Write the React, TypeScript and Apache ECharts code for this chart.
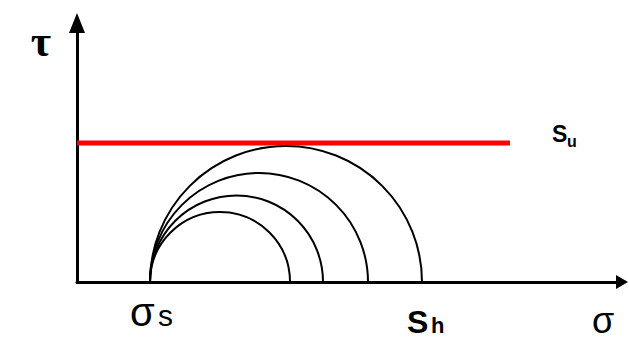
import React, { useEffect, useRef } from "react";
import * as echarts from "echarts";

// Values in chart units (σ along x, τ along y)
const sigmaStart = 73; // σs: common left end of all Mohr circles
const circleEnds = [213, 246, 291, 345]; // right ends of the circles (largest = Sh)
const suLevel = 139; // undrained strength Su
const suLineEnd = 433;
const xMax = 545;
const yMax = 259;

export default function App() {
  const ref = useRef<HTMLDivElement>(null);
  useEffect(() => {
    const chart = echarts.init(ref.current!, null, { renderer: "svg" });
    const axisCommon = {
      type: "value",
      min: 0,
      axisTick: { show: false },
      axisLabel: { show: false },
      splitLine: { show: false },
    };
    chart.setOption({
      animation: false,
      backgroundColor: "#ffffff",
      grid: { left: 77, right: 7, top: 23, bottom: 58 },
      xAxis: {
        ...axisCommon,
        max: xMax,
        axisLine: {
          show: true,
          symbol: ["none", "triangle"],
          symbolSize: [14, 12],
          lineStyle: { color: "#000", width: 3 },
        },
      },
      yAxis: {
        ...axisCommon,
        max: yMax,
        axisLine: {
          show: true,
          symbol: ["none", "triangle"],
          symbolSize: [16, 20],
          lineStyle: { color: "#000", width: 3 },
        },
      },
      series: [
        {
          type: "custom",
          data: circleEnds.map((e) => [sigmaStart, e]),
          renderItem: (_params: any, api: any) => {
            const p1 = api.coord([api.value(0), 0]);
            const p2 = api.coord([api.value(1), 0]);
            const cx = (p1[0] + p2[0]) / 2;
            const r = (p2[0] - p1[0]) / 2;
            return {
              type: "arc",
              shape: { cx, cy: p1[1], r, startAngle: Math.PI, endAngle: 2 * Math.PI, clockwise: true },
              style: { stroke: "#000", fill: "none", lineWidth: 2 },
            };
          },
          z: 2,
        },
        {
          type: "line",
          data: [
            [0, suLevel],
            [suLineEnd, suLevel],
          ],
          symbol: "none",
          lineStyle: { color: "#ff0000", width: 5 },
          z: 3,
        },
      ],
      graphic: [
        { type: "text", x: 41, y: 41, style: { text: "τ", font: "bold 44px 'Liberation Serif'", fill: "#000", align: "center", verticalAlign: "middle" } },
        { type: "text", x: 592, y: 320, style: { text: "σ", font: "36px 'Liberation Sans'", fill: "#000", align: "left", verticalAlign: "middle" } },
        { type: "text", x: 130, y: 312, style: { text: "σ", font: "40px 'Liberation Sans'", fill: "#000", align: "left", verticalAlign: "middle" } },
        { type: "text", x: 158, y: 315, style: { text: "s", font: "30px 'Liberation Sans'", fill: "#000", align: "left", verticalAlign: "middle" } },
        { type: "text", x: 407, y: 322, style: { text: "S", font: "bold 32px 'Liberation Sans'", fill: "#000", align: "left", verticalAlign: "middle" } },
        { type: "text", x: 431, y: 325, style: { text: "h", font: "bold 22px 'Liberation Sans'", fill: "#000", align: "left", verticalAlign: "middle" } },
        { type: "text", x: 552, y: 134, style: { text: "S", font: "bold 23px 'Liberation Sans'", fill: "#000", align: "left", verticalAlign: "middle" } },
        { type: "text", x: 567, y: 141, style: { text: "u", font: "bold 16px 'Liberation Sans'", fill: "#000", align: "left", verticalAlign: "middle" } },
      ],
    });
    return () => chart.dispose();
  }, []);
  return <div ref={ref} style={{ position: "fixed", left: 0, top: 0, width: 629, height: 340 }} />;
}
